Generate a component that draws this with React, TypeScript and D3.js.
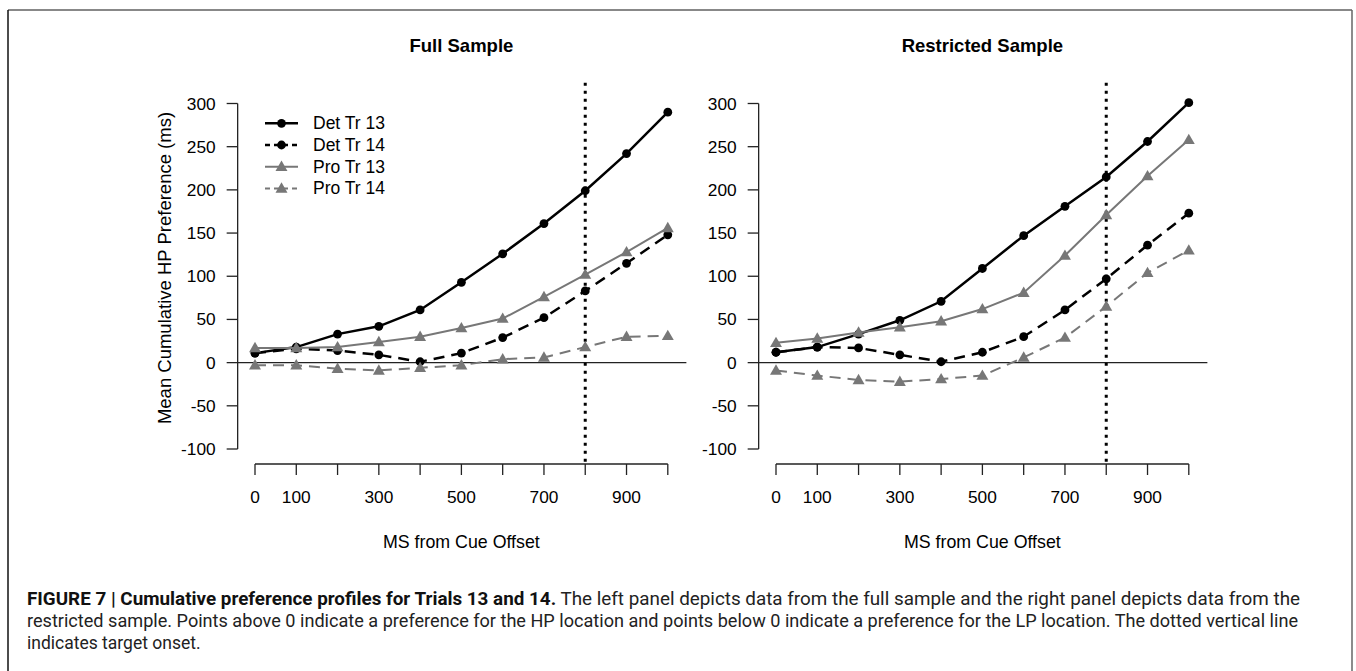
import React from "react";
import * as d3 from "d3";

// time points (ms from cue offset)
const msPoints = [0, 100, 200, 300, 400, 500, 600, 700, 800, 900, 1000];

// Full sample
const fullDet13 = [11, 18, 33, 42, 61, 93, 126, 161, 199, 242, 290];
const fullDet14 = [11, 16, 14, 9, 1, 11, 29, 52, 83, 115, 148];
const fullPro13 = [17, 17, 18, 24, 30, 40, 51, 76, 102, 128, 156];
const fullPro14 = [-3, -3, -7, -9, -6, -3, 4, 6, 18, 30, 31];

// Restricted sample
const resDet13 = [12, 18, 33, 49, 71, 109, 147, 181, 215, 256, 301];
const resDet14 = [12, 18, 17, 9, 1, 12, 30, 61, 97, 136, 173];
const resPro13 = [23, 28, 35, 41, 48, 62, 81, 124, 171, 216, 258];
const resPro14 = [-9, -15, -20, -22, -19, -15, 6, 29, 65, 104, 130];

const yTicks = [-100, -50, 0, 50, 100, 150, 200, 250, 300];
const xTicks = [0, 100, 200, 300, 400, 500, 600, 700, 800, 900, 1000];
const xLabels = [0, 100, 300, 500, 700, 900];
const seriesNames = ["Det Tr 13", "Det Tr 14", "Pro Tr 13", "Pro Tr 14"];
const targetOnset = 800;

const GRAY = "#777777";
const FONT = "'Liberation Sans', Arial, sans-serif";

const styles = [
  { color: "#000", width: 2.5, dash: null as string | null, shape: "circle" },
  { color: "#000", width: 2.5, dash: "11,7", shape: "circle" },
  { color: GRAY, width: 2, dash: null as string | null, shape: "triangle" },
  { color: GRAY, width: 2, dash: "11,7", shape: "triangle" },
];

const yScale = d3.scaleLinear().domain([-100, 300]).range([449, 103.5]);
const triPath = d3.symbol().type(d3.symbolTriangle).size(62)() as string;

function Marker({ shape, color, x, y }: { shape: string; color: string; x: number; y: number }) {
  if (shape === "circle") return <circle cx={x} cy={y} r={4.4} fill={color} />;
  return <path d={triPath} transform={`translate(${x},${y + 0.8})`} fill={color} />;
}

function Panel({
  x0,
  title,
  series,
  showYLabel,
  showLegend,
}: {
  x0: number;
  title: string;
  series: number[][];
  showYLabel: boolean;
  showLegend: boolean;
}) {
  const xScale = d3.scaleLinear().domain([0, 1000]).range([x0, x0 + 412.8]);
  const axisX = xScale(-42);
  const rightX = xScale(1045);
  const topY = yScale(324);
  const xAxisY = 464;
  const line = d3
    .line<number>()
    .x((_, i) => xScale(msPoints[i]))
    .y((d) => yScale(d));
  const cx = (xScale(0) + xScale(1000)) / 2;

  return (
    <g>
      <text x={cx} y={52} textAnchor="middle" fontFamily={FONT} fontWeight="bold" fontSize={18.5}>
        {title}
      </text>

      {/* y axis */}
      <line x1={axisX} x2={axisX} y1={yScale(300)} y2={yScale(-100)} stroke="#222" strokeWidth={1.3} />
      {yTicks.map((t) => (
        <g key={t}>
          <line x1={axisX - 11} x2={axisX} y1={yScale(t)} y2={yScale(t)} stroke="#222" strokeWidth={1.3} />
          <text x={axisX - 22} y={yScale(t) + 6} textAnchor="end" fontFamily={FONT} fontSize={17.3}>
            {t}
          </text>
        </g>
      ))}
      {showYLabel && (
        <text
          transform={`translate(${axisX - 67},${268}) rotate(-90)`}
          textAnchor="middle"
          fontFamily={FONT}
          fontSize={18.5}
        >
          Mean Cumulative HP Preference (ms)
        </text>
      )}

      {/* x axis */}
      <line x1={xScale(0)} x2={xScale(1000)} y1={xAxisY} y2={xAxisY} stroke="#222" strokeWidth={1.3} />
      {xTicks.map((t) => (
        <line key={t} x1={xScale(t)} x2={xScale(t)} y1={xAxisY} y2={xAxisY + 11} stroke="#222" strokeWidth={1.3} />
      ))}
      {xLabels.map((t) => (
        <text key={t} x={xScale(t)} y={503} textAnchor="middle" fontFamily={FONT} fontSize={17.3}>
          {t}
        </text>
      ))}
      <text x={cx} y={548} textAnchor="middle" fontFamily={FONT} fontSize={17.8}>
        MS from Cue Offset
      </text>

      {/* reference lines */}
      <line x1={axisX} x2={rightX} y1={yScale(0)} y2={yScale(0)} stroke="#222" strokeWidth={1.3} />
      <line
        x1={xScale(targetOnset)}
        x2={xScale(targetOnset)}
        y1={topY}
        y2={xAxisY}
        stroke="#000"
        strokeWidth={3}
        strokeDasharray="3,5"
      />

      {/* series */}
      {series.map((vals, si) => (
        <g key={si}>
          <path
            d={line(vals) as string}
            fill="none"
            stroke={styles[si].color}
            strokeWidth={styles[si].width}
            strokeDasharray={styles[si].dash ?? undefined}
          />
          {vals.map((v, i) => (
            <Marker key={i} shape={styles[si].shape} color={styles[si].color} x={xScale(msPoints[i])} y={yScale(v)} />
          ))}
        </g>
      ))}

      {showLegend && (
        <g>
          {seriesNames.map((name, i) => {
            const ly = 123.3 + i * 21.7;
            return (
              <g key={name}>
                <line
                  x1={265}
                  x2={298}
                  y1={ly}
                  y2={ly}
                  stroke={styles[i].color}
                  strokeWidth={styles[i].width}
                  strokeDasharray={styles[i].dash ? "5,4" : undefined}
                />
                <Marker shape={styles[i].shape} color={styles[i].color} x={281.5} y={ly} />
                <text x={313} y={ly + 6} fontFamily={FONT} fontSize={17.5}>
                  {name}
                </text>
              </g>
            );
          })}
        </g>
      )}
    </g>
  );
}

export default function App() {
  const capFont = "'Liberation Sans Narrow', Roboto, 'Noto Sans', sans-serif";
  return (
    <svg
      width={1356}
      height={671}
      style={{ position: "absolute", left: 0, top: 0, background: "#fff" }}
    >
      <rect x={0} y={0} width={1356} height={671} fill="#fff" />
      {/* frame */}
      <line x1={8} x2={1352} y1={10} y2={10} stroke="#888" strokeWidth={2} />
      <line x1={8} x2={8} y1={10} y2={671} stroke="#111" strokeWidth={1.5} />
      <line x1={1352} x2={1352} y1={10} y2={671} stroke="#666" strokeWidth={1.5} />

      <Panel x0={255} title="Full Sample" series={[fullDet13, fullDet14, fullPro13, fullPro14]} showYLabel showLegend />
      <Panel
        x0={776}
        title="Restricted Sample"
        series={[resDet13, resDet14, resPro13, resPro14]}
        showYLabel={false}
        showLegend={false}
      />

      {/* caption */}
      <text x={27} y={605} fontFamily={capFont} fontSize={17.5} fill="#222" textLength={1273} lengthAdjust="spacingAndGlyphs">
        <tspan fontWeight="bold" fill="#111">
          FIGURE 7 | Cumulative preference profiles for Trials 13 and 14.
        </tspan>
        <tspan> The left panel depicts data from the full sample and the right panel depicts data from the</tspan>
      </text>
      <text x={27} y={627} fontFamily={capFont} fontSize={17.5} fill="#222" textLength={1271} lengthAdjust="spacingAndGlyphs">
        restricted sample. Points above 0 indicate a preference for the HP location and points below 0 indicate a preference for the LP location. The dotted vertical line
      </text>
      <text x={27} y={649} fontFamily={capFont} fontSize={17.5} fill="#222">
        indicates target onset.
      </text>
    </svg>
  );
}
